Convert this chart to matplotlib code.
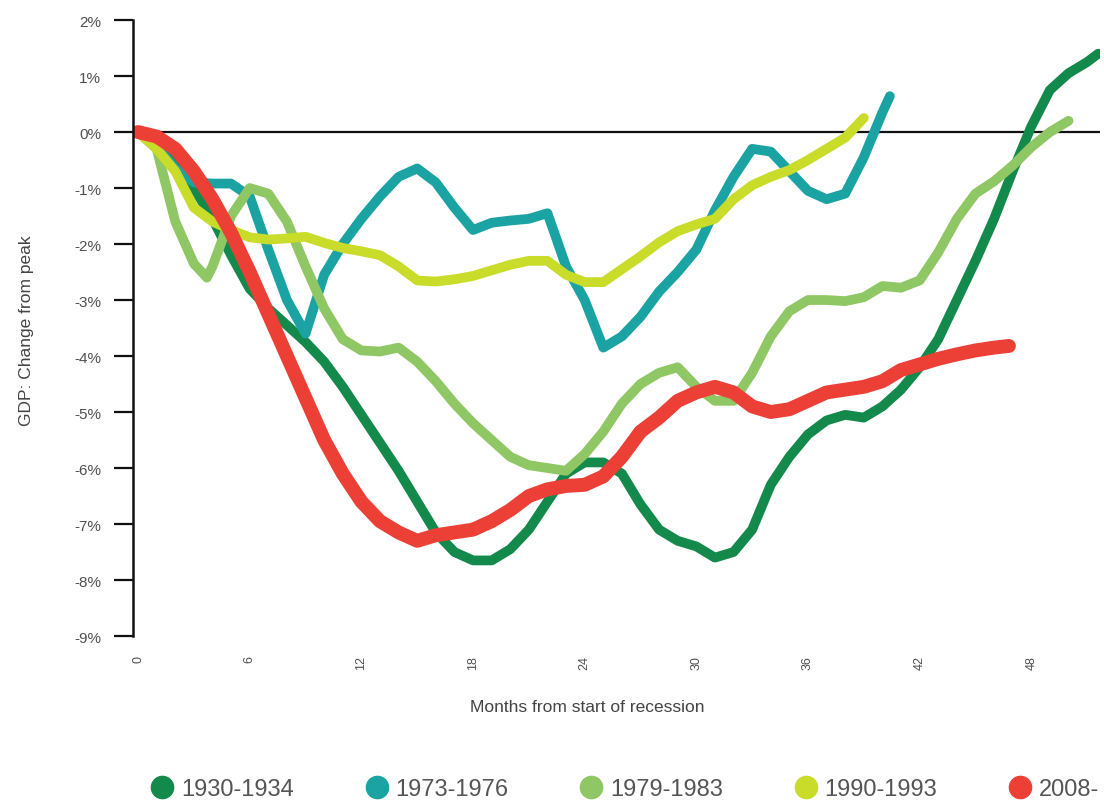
import matplotlib
matplotlib.use("Agg")
import matplotlib.pyplot as plt
from matplotlib.lines import Line2D
import numpy as np

plt.rcParams['font.family'] = ['Liberation Sans Narrow', 'Liberation Sans', 'DejaVu Sans']

# GDP change from peak (%)
months_1930 = list(range(0, 52)) + [51.6]
gdp_1930 = [0, -0.2, -0.55, -1.0, -1.55, -2.2, -2.8, -3.15, -3.45, -3.75,
            -4.1, -4.55, -5.05, -5.55, -6.05, -6.6, -7.15, -7.5, -7.65, -7.65,
            -7.45, -7.1, -6.6, -6.1, -5.9, -5.9, -6.1, -6.65, -7.1, -7.3,
            -7.4, -7.6, -7.5, -7.1, -6.3, -5.8, -5.4, -5.15, -5.05, -5.1,
            -4.9, -4.6, -4.2, -3.7, -3.0, -2.3, -1.55, -0.7, 0.1, 0.75,
            1.05, 1.25, 1.4]

months_1973 = list(range(0, 41)) + [40.4]
gdp_1973 = [0, -0.25, -0.65, -0.9, -0.92, -0.92, -1.15, -2.1, -3.0, -3.6,
            -2.55, -2.0, -1.55, -1.15, -0.8, -0.65, -0.9, -1.35, -1.75, -1.62,
            -1.58, -1.55, -1.45, -2.4, -3.0, -3.85, -3.65, -3.3, -2.85, -2.5,
            -2.1, -1.4, -0.8, -0.3, -0.35, -0.7, -1.05, -1.2, -1.1, -0.45,
            0.35, 0.64]

months_1979 = [0, 1, 2, 3, 3.7] + list(range(4, 51))
gdp_1979 = [0, -0.3, -1.6, -2.35, -2.6, -2.4, -1.5, -1.0, -1.1, -1.6, -2.4,
            -3.15, -3.7, -3.9, -3.92, -3.85, -4.1, -4.45, -4.85, -5.2, -5.5,
            -5.8, -5.95, -6.0, -6.05, -5.75, -5.35, -4.85, -4.5, -4.3, -4.2,
            -4.55, -4.8, -4.8, -4.3, -3.65, -3.2, -3.0, -3.0, -3.02, -2.95,
            -2.75, -2.78, -2.65, -2.15, -1.55, -1.1, -0.88, -0.6, -0.27, 0.0,
            0.2]

months_1990 = list(range(0, 40))
gdp_1990 = [0, -0.3, -0.7, -1.35, -1.6, -1.75, -1.88, -1.92, -1.9, -1.87,
            -1.98, -2.07, -2.13, -2.2, -2.4, -2.65, -2.67, -2.63, -2.57, -2.47,
            -2.37, -2.3, -2.3, -2.55, -2.68, -2.68, -2.45, -2.22, -1.97, -1.77,
            -1.65, -1.55, -1.2, -0.95, -0.8, -0.68, -0.5, -0.3, -0.1, 0.25]

months_2008 = list(range(0, 47)) + [46.8]
gdp_2008 = [0, -0.08, -0.3, -0.7, -1.2, -1.8, -2.5, -3.25, -4.0, -4.75,
            -5.5, -6.1, -6.6, -6.95, -7.15, -7.3, -7.2, -7.15, -7.1, -6.95,
            -6.75, -6.5, -6.38, -6.32, -6.3, -6.15, -5.8, -5.35, -5.1, -4.8,
            -4.65, -4.55, -4.65, -4.9, -5.0, -4.95, -4.8, -4.65, -4.6, -4.55,
            -4.45, -4.25, -4.15, -4.05, -3.97, -3.9, -3.85, -3.82]

labels = ['1930-1934', '1973-1976', '1979-1983', '1990-1993', '2008-']
colors = ['#13894b', '#1aa3a2', '#8fc764', '#c9dc2a', '#ec3f36']
widths = [7, 7, 7, 7, 10]

x_ticks = [0, 6, 12, 18, 24, 30, 36, 42, 48]
y_ticks = list(range(-9, 3))

fig = plt.figure(figsize=(11.04, 8.03), dpi=100)
ax = fig.add_axes([0.1205, 0.2067, 0.876, 0.7671])

series = [(months_1930, gdp_1930), (months_1973, gdp_1973), (months_1979, gdp_1979),
          (months_1990, gdp_1990), (months_2008, gdp_2008)]
for (mx, gy), lab, col, lw in zip(series, labels, colors, widths):
    ax.plot(mx, gy, color=col, lw=lw, label=lab,
            solid_capstyle='round', solid_joinstyle='round')

ax.axhline(0, color='#111111', lw=1.6, zorder=1)

ax.set_xlim(-0.27, 51.7)
ax.set_ylim(-9, 2)

for s in ['top', 'right', 'bottom']:
    ax.spines[s].set_visible(False)
ax.spines['left'].set_linewidth(1.8)
ax.spines['left'].set_color('#111111')

ax.set_yticks(y_ticks)
ax.set_yticklabels([f'{v}%' for v in y_ticks])
ax.tick_params(axis='y', direction='out', length=14, width=1.6, color='#111111',
               pad=9, labelsize=11, labelcolor='#505050')

ax.set_xticks(x_ticks)
ax.set_xticklabels([str(v) for v in x_ticks], rotation=90)
ax.tick_params(axis='x', length=0, pad=14, labelsize=9, labelcolor='#505050')

fig.text(0.532, 0.119, 'Months from start of recession', ha='center', va='center',
         fontsize=12.5, color='#444444')
fig.text(0.024, 0.588, 'GDP: Change from peak', ha='center', va='center',
         rotation=90, fontsize=12.5, color='#444444')

handles = [Line2D([], [], ls='none', marker='o', markersize=16, color=c) for c in colors]
fig.legend(handles, labels, loc='center', bbox_to_anchor=(0.566, 0.016), ncol=5,
           frameon=False, fontsize=17, labelcolor='#555555', handlelength=1.0,
           handletextpad=0.3, columnspacing=3.0, borderpad=0)

fig.savefig('out.png', dpi=100, facecolor='white')
